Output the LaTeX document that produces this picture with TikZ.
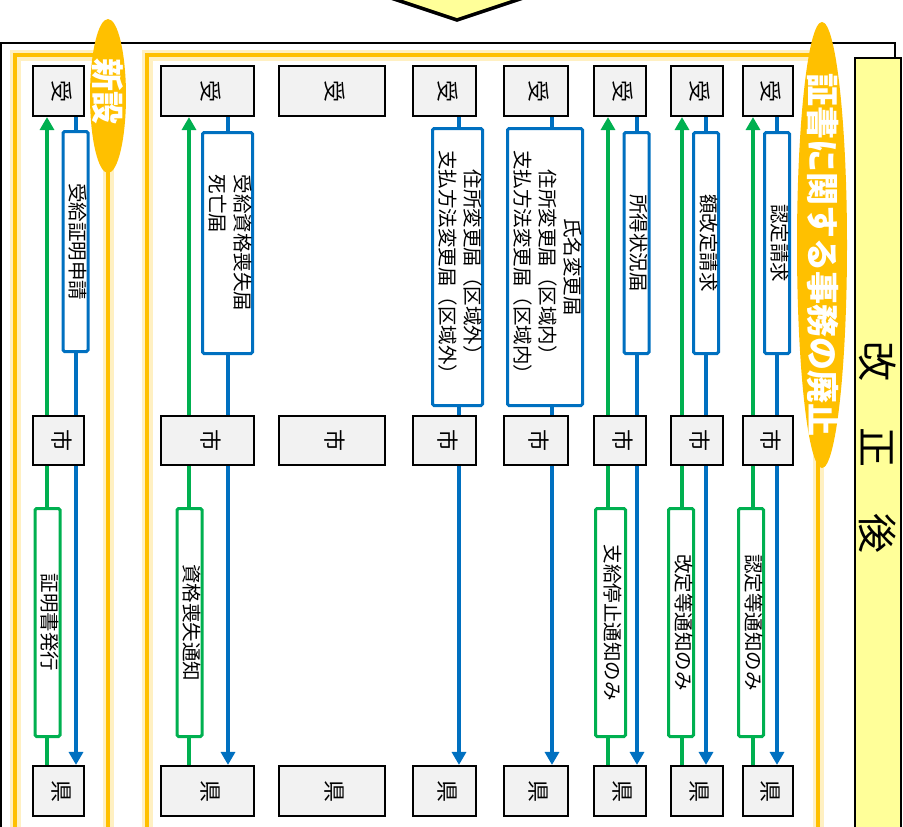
\documentclass[tikz,border=0pt]{standalone}
\usepackage{fontspec}
\usepackage{graphicx}
\setmainfont{Noto Sans CJK JP}
\usetikzlibrary{arrows.meta,calc,backgrounds,shapes.geometric}
\definecolor{grn}{HTML}{00B050}
\definecolor{blu}{HTML}{0070C0}
\definecolor{orng}{HTML}{FFC000}
\definecolor{ylw}{HTML}{FFFF99}
\definecolor{glowc}{HTML}{FFE699}
\definecolor{boxg}{HTML}{F2F2F2}
\newcommand\vt[2][c]{\rotatebox{-90}{\begin{tabular}{@{}#1@{}}#2\end{tabular}}}
\newcommand\mkcol[3]{%
  \node[gb,minimum width=#3pt,minimum height=50.5pt] (uke#1) at (#2,91) {\vt{受}};
  \node[gb,minimum width=#3pt,minimum height=49.5pt] (shi#1) at (#2,440.5) {\vt{市}};
  \node[gb,minimum width=#3pt,minimum height=50.5pt] (ken#1) at (#2,791) {\vt{県}};}
\begin{document}
\begin{tikzpicture}[x=1pt,y=-1pt,
  gb/.style={draw=black,line width=1.6pt,fill=boxg,inner sep=0pt,font=\fontsize{22}{26}\selectfont},
  lbl/.style={line width=3pt,fill=white,rounded corners=1.5pt,inner sep=0pt,font=\fontsize{19.5}{25}\selectfont},
  bl/.style={lbl,draw=blu},
  gl/.style={lbl,draw=grn},
  gline/.style={draw=grn,line width=3.2pt},
  bline/.style={draw=blu,line width=3.2pt},
  arrtip/.style={-{Triangle[width=14pt,length=13pt]}},
  glow/.style={draw=glowc,line width=11pt,opacity=.6},
  core/.style={draw=orng,line width=3.8pt},
  oval/.style={ellipse,fill=orng,inner sep=0pt},
  ovtext/.style={text=white,font=\fontsize{33}{36}\selectfont\bfseries}
]
\useasboundingbox (0,0) rectangle (903,827);
\clip (0,0) rectangle (903,827);

% outer frame
\draw[black,line width=1.2pt] (1,43) rectangle (895,860);

% top arrow
\draw[fill=ylw,line width=3.5pt,line join=miter] (361,-12) -- (457,20) -- (553,-12) -- cycle;

% right yellow title box
\node[draw=black,line width=1.6pt,fill=ylw,minimum width=46.5pt,minimum height=790pt,inner sep=0pt] (kaisei) at (878,453) {};
\node[font=\fontsize{40}{44}\selectfont] (kaiseitext) at (878,447) {\rotatebox{-90}{改\hspace{46pt}正\hspace{46pt}後}};

% columns
\mkcol{A}{58.5}{51.5}
\mkcol{B}{207.5}{93.5}
\mkcol{C}{332}{106.5}
\mkcol{D}{444.5}{63.5}
\mkcol{E}{536}{64.5}
\mkcol{F}{620}{52.5}
\mkcol{G}{697}{52.5}
\mkcol{H}{768}{50.5}

% line positions
\coordinate (gA) at (47,0);  \coordinate (bA) at (76,0);
\coordinate (gB) at (189,0); \coordinate (bB) at (228,0);
\coordinate (bD) at (459,0);
\coordinate (bE) at (552,0);
\coordinate (gF) at (608,0); \coordinate (bF) at (637,0);
\coordinate (gG) at (682,0); \coordinate (bG) at (706,0);
\coordinate (gH) at (753,0); \coordinate (bH) at (777,0);

% blue label boxes
\node[bl,minimum width=22pt,minimum height=220pt] (reqA) at (75.5,241.5) {\vt{受給証明申請}};
\node[bl,minimum width=46pt,minimum height=221pt] (reqB) at (227.5,243) {\vt[l]{受給資格喪失届\\死亡届}};
\node[bl,minimum width=46pt,minimum height=277pt] (reqD) at (457.5,267) {\vt{住所変更届（区域外）\\支払方法変更届（区域外）}};
\node[bl,minimum width=75pt,minimum height=277pt] (reqE) at (545,267) {\vt{氏名変更届\\住所変更届（区域内）\\支払方法変更届（区域内）}};
\node[bl,minimum width=22pt,minimum height=221pt] (reqF) at (636.5,243) {\vt{所得状況届}};
\node[bl,minimum width=21pt,minimum height=221pt] (reqG) at (706,243) {\vt{額改定請求}};
\node[bl,minimum width=21pt,minimum height=221pt] (reqH) at (777,243) {\vt{認定請求}};

% green label boxes
\node[gl,minimum width=22pt,minimum height=228pt] (ntcA) at (47.5,622.5) {\vt{証明書発行}};
\node[gl,minimum width=22pt,minimum height=228pt] (ntcB) at (189.5,622.5) {\vt{資格喪失通知}};
\node[gl,minimum width=30pt,minimum height=228pt] (ntcF) at (610.5,622.5) {\vt{支給停止通知のみ}};
\node[gl,minimum width=25pt,minimum height=228pt] (ntcG) at (681,622.5) {\vt{改定等通知のみ}};
\node[gl,minimum width=25pt,minimum height=228pt] (ntcH) at (751,622.5) {\vt{認定等通知のみ}};

% orange ovals
\node[oval,minimum width=36pt,minimum height=154pt] (shinsetsu) at (108,96) {};
\node[ovtext] (shinsetsutext) at (108,91) {\rotatebox{-90}{新設}};
\node[oval,minimum width=50pt,minimum height=446pt] (haishi) at (822,245) {};
\node[ovtext] (haishitext) at (823,255) {\rotatebox{-90}{証書に関する事務の廃止}};

\begin{pgfonlayer}{background}
  % glowing frames
  \draw[glow] (15,55) rectangle (108,834);
  \draw[glow] (147,55) rectangle (818,834);
  \draw[core] (15,55) rectangle (108,834);
  \draw[core] (147,55) rectangle (818,834);
  % green flows (up)
  \foreach \c in {A,B,F,G,H}{
    \draw[gline,arrtip] (ken\c.north -| g\c) -- (uke\c.south -| g\c);
  }
  % blue flows (down)
  \foreach \c in {A,B,D,E,F,G,H}{
    \draw[bline,arrtip] (uke\c.south -| b\c) -- (ken\c.north -| b\c);
  }
\end{pgfonlayer}
\end{tikzpicture}
\end{document}
